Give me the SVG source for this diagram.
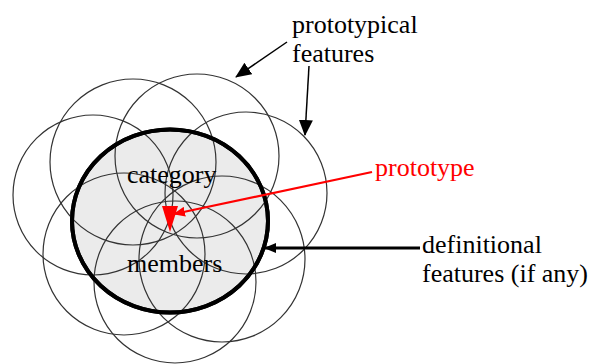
<svg xmlns="http://www.w3.org/2000/svg" width="594" height="364" viewBox="0 0 594 364">
  <style>
    .lbl { font-family: "Liberation Serif", "Times New Roman", serif; font-size: 26px; fill: #000; }
    .red { fill: #ff0000; }
    .feat { fill: none; stroke: #333; stroke-width: 1.2; }
    .bound { fill: #ebebeb; stroke: #000; stroke-width: 4; }
    .conn { fill: none; stroke: #000; stroke-width: 1.5; }
  </style>
  <defs>
    <marker id="bigHead" markerUnits="userSpaceOnUse" markerWidth="16" markerHeight="14" refX="15" refY="7" orient="auto">
      <path d="M0,0 L16,7 L0,14 Z" fill="#000"/>
    </marker>
    <marker id="smallHead" markerUnits="userSpaceOnUse" markerWidth="12" markerHeight="10" refX="11" refY="5" orient="auto">
      <path d="M0,0 L12,5 L0,10 Z" fill="#000"/>
    </marker>
    <marker id="redHead" markerUnits="userSpaceOnUse" markerWidth="12" markerHeight="10" refX="11" refY="5" orient="auto">
      <path d="M0,0 L12,5 L0,10 Z" fill="#ff0000"/>
    </marker>
  </defs>

  <rect width="594" height="364" fill="#fff"/>

  <!-- category boundary (filled area) -->
  <g id="category-boundary">
    <ellipse class="bound" cx="170" cy="221" rx="98" ry="91.5"/>
  </g>

  <!-- overlapping feature circles -->
  <g id="feature-circles">
    <circle class="feat" cx="133" cy="162" r="83"/>
    <circle class="feat" cx="197" cy="156" r="82"/>
    <circle class="feat" cx="93" cy="195" r="80"/>
    <circle class="feat" cx="246" cy="193" r="81"/>
    <circle class="feat" cx="124" cy="254" r="81"/>
    <circle class="feat" cx="222" cy="259" r="83"/>
    <circle class="feat" cx="175" cy="282" r="81"/>
  </g>

  <!-- thick outline drawn again on top of the thin circles -->
  <g id="category-outline">
    <ellipse cx="170" cy="221" rx="98" ry="91.5" fill="none" stroke="#000" stroke-width="4"/>
  </g>

  <g id="prototype">
    <polygon points="162,206 178,206 170,232" fill="#ff0000"/>
  </g>

  <g id="inner-labels">
    <text class="lbl" x="127" y="183">category</text>
    <text class="lbl" x="127" y="272">members</text>
  </g>

  <g id="connectors">
    <line class="conn" x1="287" y1="42" x2="236" y2="77" marker-end="url(#bigHead)"/>
    <line class="conn" x1="309" y1="66" x2="305" y2="135" marker-end="url(#bigHead)"/>
    <line x1="372" y1="172" x2="174" y2="214" stroke="#ff0000" stroke-width="2.2" marker-end="url(#redHead)"/>
    <line x1="420" y1="248" x2="265" y2="248" stroke="#000" stroke-width="3" marker-end="url(#smallHead)"/>
  </g>

  <g id="label-prototypical">
    <text class="lbl" x="292" y="33">prototypical</text>
    <text class="lbl" x="292" y="62">features</text>
  </g>
  <g id="label-prototype">
    <text class="lbl red" x="375" y="176">prototype</text>
  </g>
  <g id="label-definitional">
    <text class="lbl" x="422" y="253">definitional</text>
    <text class="lbl" x="422" y="282">features (if any)</text>
  </g>
</svg>
